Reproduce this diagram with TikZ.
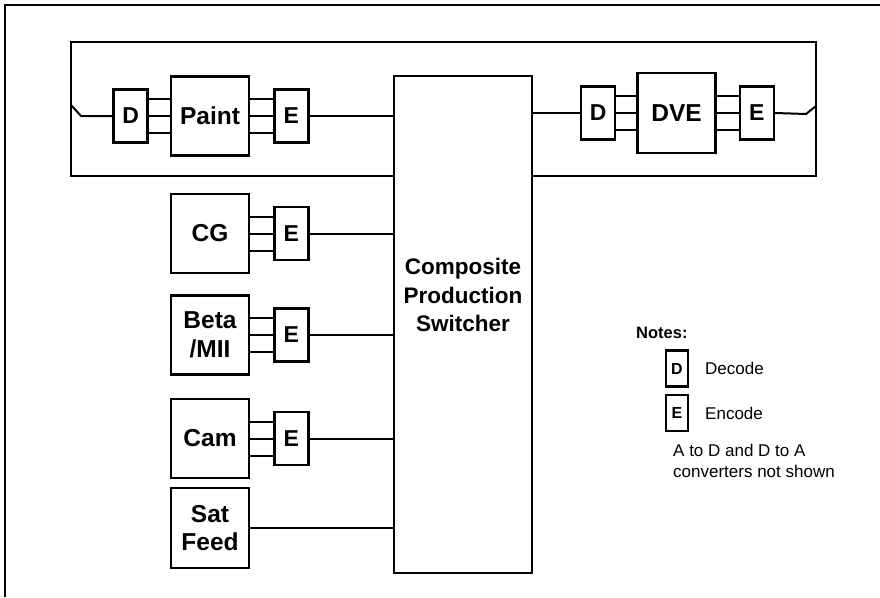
\documentclass[tikz,border=0pt]{standalone}
\usepackage{fontspec}
\setmainfont{Liberation Sans}
\usetikzlibrary{positioning}

\begin{document}
\begin{tikzpicture}[
    x=1pt, y=-1pt,
    source/.style={rectangle, draw, line width=2.4pt, minimum width=78pt, minimum height=79pt, inner sep=0pt, align=center, font=\fontsize{24.5}{28.5}\selectfont\bfseries},
    conv/.style={rectangle, draw, line width=2.4pt, minimum width=34pt, minimum height=53pt, inner sep=0pt, font=\fontsize{23}{28}\selectfont\bfseries},
    switcher/.style={rectangle, draw, fill=white, line width=2.4pt, minimum width=138pt, minimum height=497pt},
    loopbox/.style={rectangle, draw, line width=2.2pt, minimum width=745pt, minimum height=134pt},
    keybox/.style={rectangle, draw, line width=2.2pt, minimum width=22pt, minimum height=36pt, inner sep=0pt, font=\fontsize{16}{19}\selectfont\bfseries},
    wire/.style={line width=2pt},
    note/.style={font=\fontsize{17}{20.5}\selectfont, align=left, inner sep=0pt}
]
    \useasboundingbox (0,0) rectangle (880,597);
    \draw[line width=1.4pt] (5,597) -- (5,5) -- (880,5);

    \node[loopbox] (loop) at (443.5,109) {};
    \node[switcher] (sw) at (463,324.5) {};
    \node[align=center, font=\fontsize{22.5}{28.5}\selectfont\bfseries] (swtext) at (463,295) {Composite\\Production\\Switcher};

    \node[source] (paint) at (210,116) {Paint};
    \node[conv, left=21pt of paint] (paintd) {D};
    \node[conv, right=23pt of paint] (painte) {E};

    \node[source, minimum height=80pt] (dve) at (676.5,113) {DVE};
    \node[conv, left=20pt of dve] (dved) {D};
    \node[conv, right=22pt of dve] (dvee) {E};

    \node[source] (cg) at (210,233.5) {CG};
    \node[conv, right=23pt of cg] (cge) {E};
    \node[source] (beta) at (210,335) {Beta\\/MII};
    \node[conv, right=23pt of beta] (betae) {E};
    \node[source] (cam) at (210,438.5) {Cam};
    \node[conv, right=23pt of cam] (came) {E};
    \node[source, minimum height=80pt] (sat) at (210,528) {Sat\\Feed};

    \coordinate (ltap) at (71,105);
    \coordinate (lbend) at (81,116);
    \coordinate (rbend) at (806,114);
    \coordinate (rtap) at (816,106);

    \foreach \a/\b in {paintd/paint, paint/painte, dved/dve, dve/dvee, cg/cge, beta/betae, cam/came}
        \foreach \dy in {-17,0,17}
            \draw[wire] ([yshift=\dy pt]\a.east) -- ([yshift=\dy pt]\b.west);

    \draw[wire] (ltap) -- (lbend) -- (paintd.west);
    \draw[wire] (dvee.east) -- (rbend) -- (rtap);
    \draw[wire] (painte.east) -- (painte.east -| sw.west);
    \draw[wire] (sw.east |- dved.west) -- (dved.west);
    \draw[wire] (cge.east) -- (cge.east -| sw.west);
    \draw[wire] (betae.east) -- (betae.east -| sw.west);
    \draw[wire] (came.east) -- (came.east -| sw.west);
    \draw[wire] (sat.east) -- (sat.east -| sw.west);

    \node[anchor=west, inner sep=0pt, font=\fontsize{16.5}{20}\selectfont\bfseries] (notes) at (636,333) {Notes:};
    \node[keybox] (keyd) at (677,368.5) {D};
    \node[note, anchor=west] (keydtext) at (705,368) {Decode};
    \node[keybox] (keye) at (677,413) {E};
    \node[note, anchor=west] (keyetext) at (705,413) {Encode};
    \node[note, anchor=north west] (keynote) at (673,444) {A to D and D to A\\converters not shown};
\end{tikzpicture}
\end{document}
